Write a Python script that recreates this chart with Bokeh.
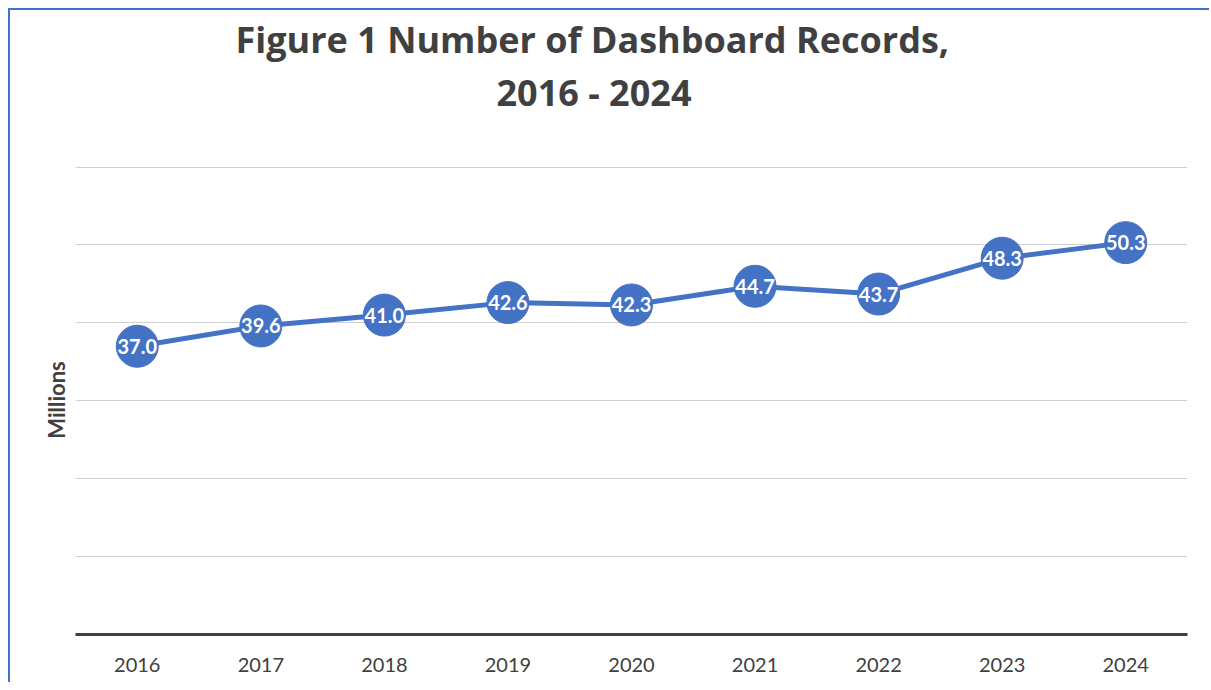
from bokeh.plotting import figure
from bokeh.models import ColumnDataSource, Title, FixedTicker, Range1d
from bokeh.core.properties import value
from bokeh.embed import file_html
from bokeh.resources import INLINE

years = ["2016", "2017", "2018", "2019", "2020", "2021", "2022", "2023", "2024"]
records = [37.0, 39.6, 41.0, 42.6, 42.3, 44.7, 43.7, 48.3, 50.3]
y_ticks = [0, 10, 20, 30, 40, 50, 60]
title_line1 = "Figure 1 Number of Dashboard Records,"
title_line2 = "2016 - 2024"
y_label = "Millions"

BLUE = "#4472C4"
DARK = "#404040"
FONT = "Lato"
TFONT = "Open Sans"

src = ColumnDataSource(dict(x=years, y=records, lbl=[f"{v:.1f}" for v in records]))

p = figure(width=1201, height=674, x_range=years, y_range=Range1d(0, 60.2),
           output_backend="svg", toolbar_location=None,
           min_border_left=65, min_border_right=24, min_border_bottom=50, min_border_top=155)
p.styles = {"border-left": f"2px solid {BLUE}", "border-top": f"2px solid {BLUE}",
            "margin-left": "8px", "margin-top": "8px"}

# second title line (nearest the plot); trailing newline leaves a blank line below it
p.add_layout(Title(text=title_line2 + "\n", align="left", offset=421, standoff=0,
                   text_font=TFONT, text_font_size="36px", text_font_style="bold",
                   text_color=DARK), "above")
p.add_layout(Title(text=title_line1, align="left", offset=160, standoff=3,
                   text_font=TFONT, text_font_size="36px", text_font_style="bold",
                   text_color=DARK), "above")

p.outline_line_color = None
p.xgrid.grid_line_color = None
p.ygrid.grid_line_color = "#d0d0d0"
p.ygrid.grid_line_width = 1
p.yaxis.ticker = FixedTicker(ticks=y_ticks)
p.yaxis.major_label_overrides = {t: "" for t in y_ticks}
p.yaxis.axis_line_color = None
p.yaxis.major_tick_line_color = None
p.yaxis.minor_tick_line_color = None
p.yaxis.major_tick_out = 0
p.yaxis.major_label_standoff = 0
p.yaxis.axis_label = y_label
p.yaxis.axis_label_text_font = FONT
p.yaxis.axis_label_text_font_size = "22px"
p.yaxis.axis_label_text_font_style = "bold"
p.yaxis.axis_label_text_color = DARK
p.yaxis.axis_label_standoff = 6

p.xaxis.axis_line_color = DARK
p.xaxis.axis_line_width = 3
p.xaxis.major_tick_line_color = None
p.xaxis.minor_tick_line_color = None
p.xaxis.major_tick_out = 0
p.xaxis.major_label_standoff = 23
p.xaxis.major_label_text_font = FONT
p.xaxis.major_label_text_font_size = "20px"
p.xaxis.major_label_text_color = DARK

p.line("x", "y", source=src, line_color=BLUE, line_width=5)
p.scatter("x", "y", source=src, size=42, fill_color=BLUE, line_color=BLUE)
p.text("x", "y", text="lbl", source=src, text_color="white", text_font=value(FONT),
       text_font_size="20px", text_font_style="bold", text_align="center", text_baseline="middle")

open("out.html", "w").write(file_html(p, INLINE))
